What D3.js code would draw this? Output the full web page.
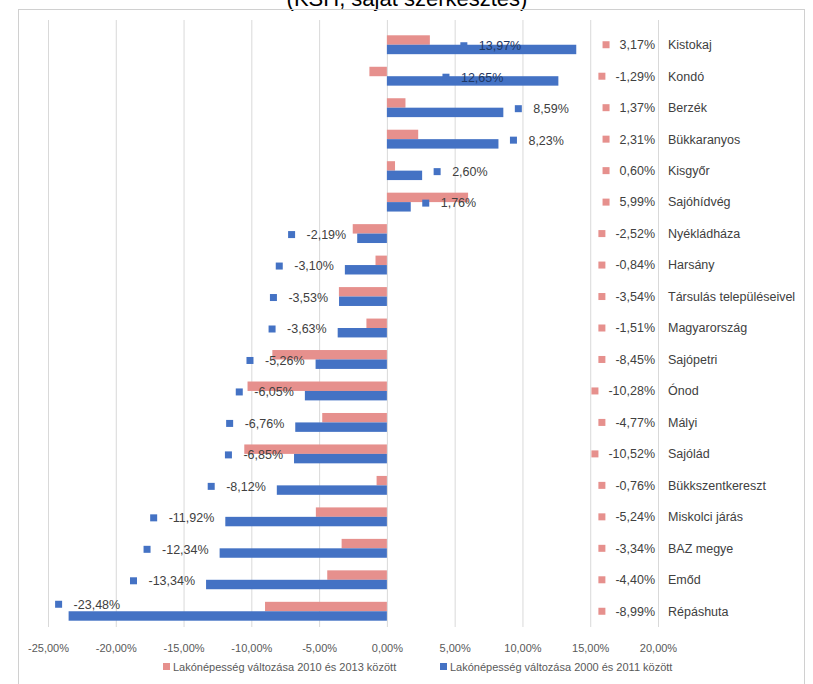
<!DOCTYPE html>
<html><head><meta charset="utf-8">
<script src="https://cdn.jsdelivr.net/npm/d3@7"></script>
<style>
body{margin:0;background:#fff;}
text{font-family:"Liberation Sans",Arial,sans-serif;}
</style></head>
<body><svg id="c" width="813" height="684"></svg>
<script>
const categories = ["Kistokaj","Kondó","Berzék","Bükkaranyos","Kisgyőr","Sajóhídvég","Nyékládháza","Harsány","Társulás településeivel","Magyarország","Sajópetri","Ónod","Mályi","Sajólád","Bükkszentkereszt","Miskolci járás","BAZ megye","Emőd","Répáshuta"];
const change2010_2013 = [3.17,-1.29,1.37,2.31,0.60,5.99,-2.52,-0.84,-3.54,-1.51,-8.45,-10.28,-4.77,-10.52,-0.76,-5.24,-3.34,-4.40,-8.99];
const change2000_2011 = [13.97,12.65,8.59,8.23,2.60,1.76,-2.19,-3.10,-3.53,-3.63,-5.26,-6.05,-6.76,-6.85,-8.12,-11.92,-12.34,-13.34,-23.48];
const xTicks = [-25,-20,-15,-10,-5,0,5,10,15,20];
const seriesNames = ["Lakónépesség változása 2010 és 2013 között","Lakónépesség változása 2000 és 2011 között"];
const colors = ["#E6908D","#4472C4"];

const svg = d3.select("#c");
const fmt = v => v.toFixed(2).replace(".", ",") + "%";
const LF = 12.5;

// title (partially cut off at top, as in the source)
svg.append("text").attr("x",407).attr("y",6).attr("text-anchor","middle")
  .attr("font-size",22).attr("fill","#000").text("(KSH, saját szerkesztés)");
// outer border
svg.append("rect").attr("x",18.5).attr("y",9.5).attr("width",786).attr("height",700)
  .attr("fill","none").attr("stroke","#D0D0D0");

const x = d3.scaleLinear().domain([-25,20]).range([48,658]);
const y = d3.scaleBand().domain(categories).range([29,627]).paddingInner(0.4).paddingOuter(0.2);
const half = y.bandwidth()/2;

// gridlines
svg.append("g").attr("transform","translate(0,627)")
  .call(d3.axisBottom(x).tickValues(xTicks).tickSize(-607).tickFormat(""))
  .call(g=>g.select(".domain").remove())
  .call(g=>g.selectAll("line").attr("stroke","#D9D9D9"));
// axis labels
svg.append("g").attr("transform","translate(0,627)")
  .call(d3.axisBottom(x).tickValues(xTicks).tickSize(0).tickPadding(17).tickFormat(fmt))
  .call(g=>g.select(".domain").remove())
  .call(g=>g.selectAll("text").attr("font-size",11).attr("fill","#595959").attr("font-family","Liberation Sans, Arial"));

// bars
const rows = categories.map((c,i)=>({c, a:change2010_2013[i], b:change2000_2011[i]}));
svg.append("g").selectAll("rect").data(rows).join("rect")
  .attr("x",d=>x(Math.min(0,d.a))).attr("width",d=>Math.abs(x(d.a)-x(0)))
  .attr("y",d=>y(d.c)).attr("height",half).attr("fill",colors[0]);
svg.append("g").selectAll("rect").data(rows).join("rect")
  .attr("x",d=>x(Math.min(0,d.b))).attr("width",d=>Math.abs(x(d.b)-x(0)))
  .attr("y",d=>y(d.c)+half).attr("height",half).attr("fill",colors[1]);

// red labels column + category names
const redG = svg.append("g");
rows.forEach(d=>{
  const cy = y(d.c)+y.bandwidth()/2;
  const t = redG.append("text").attr("x",x(20)-3).attr("y",cy).attr("dy","0.35em")
    .attr("text-anchor","end").attr("font-size",LF).attr("fill","#404040").text(fmt(d.a));
  const w = t.node().getComputedTextLength();
  redG.append("rect").attr("x",x(20)-3-w-17).attr("y",cy-3.5).attr("width",7).attr("height",7).attr("fill",colors[0]);
  svg.append("text").attr("x",x(20)+10).attr("y",cy).attr("dy","0.35em")
    .attr("font-size",LF).attr("fill","#404040").text(d.c);
});

// blue labels
const blueG = svg.append("g");
rows.forEach(d=>{
  const cy = y(d.c)+y.bandwidth()/2+1;
  const t = blueG.append("text").attr("y",cy).attr("dy","0.35em")
    .attr("font-size",LF).attr("fill","#404040").text(fmt(d.b));
  const w = t.node().getComputedTextLength();
  let ts, my = cy;
  if (d.b >= 0) {
    ts = x(d.b) + 30;
    if (ts + w > x(15)) { ts = x(d.b) - 55 - w; t.attr("fill","#1F3864"); }
  } else {
    ts = x(d.b) - 11 - w;
    if (ts - 18 < x(-25)) { ts = x(d.b) + 5; my = cy - 8; t.attr("y",my); }
  }
  t.attr("x",ts);
  blueG.append("rect").attr("x",ts-18.5).attr("y",my-3.5).attr("width",7).attr("height",7).attr("fill",colors[1]);
});

// legend
const leg = svg.append("g");
[163,440].forEach((lx,i)=>{
  leg.append("rect").attr("x",lx).attr("y",663).attr("width",7).attr("height",7).attr("fill",colors[i]);
  leg.append("text").attr("x",lx+10).attr("y",667).attr("dy","0.35em").attr("font-size",11)
    .attr("fill","#595959").text(seriesNames[i]);
});
</script></body></html>
